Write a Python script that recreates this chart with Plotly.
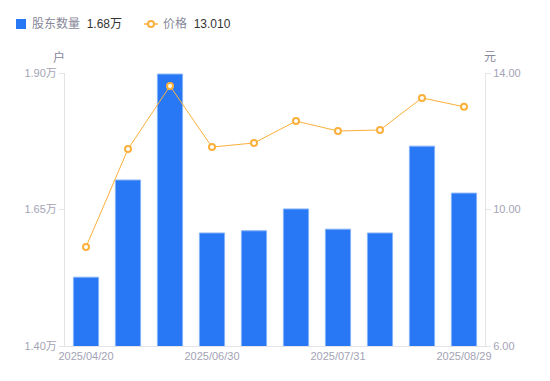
import plotly.graph_objects as go

dates = ["2025/04/20", "2025/05/10", "2025/05/31", "2025/06/30", "2025/07/10",
         "2025/07/20", "2025/07/31", "2025/08/10", "2025/08/20", "2025/08/29"]
holders = [1.526, 1.704, 1.898, 1.607, 1.611, 1.651, 1.614, 1.607, 1.766, 1.680]
price = [8.90, 11.77, 13.62, 11.83, 11.95, 12.59, 12.30, 12.33, 13.27, 13.01]
left_ticks = [1.40, 1.65, 1.90]
left_labels = ["1.40万", "1.65万", "1.90万"]
right_ticks = [6, 10, 14]
right_labels = ["6.00", "10.00", "14.00"]
shown_dates = ["2025/04/20", "2025/06/30", "2025/07/31", "2025/08/29"]
legend_holders = "1.68万"
legend_price = "13.010"

BLUE = "#2878F5"
ORANGE = "#FBB03B"
GREY = "#A3A3B5"
FONT = "Liberation Sans, Arial, Noto Sans CJK SC, sans-serif"

# page has an 8px body margin; compensate so the plot area lands at x 65..485, y 73..346
OFF = 8
W, H = 550 - OFF, 381 - OFF
L, R, T, B = 65, 485, 73, 346
def px(x):
    return (x - L) / (R - L)
def py(y):
    return (B - y) / (B - T)

fig = go.Figure()
fig.add_trace(go.Bar(
    x=dates, y=holders, name="股东数量",
    marker=dict(color=BLUE, line=dict(color="#86B3F8", width=1)),
    yaxis="y"))
fig.add_trace(go.Scatter(
    x=dates, y=price, name="价格",
    mode="lines+markers", line=dict(color=ORANGE, width=1),
    marker=dict(symbol="circle", size=6, color="white", line=dict(color=ORANGE, width=2)),
    yaxis="y2", cliponaxis=False))

shapes = [
    dict(type="rect", xref="paper", yref="paper", x0=px(16), x1=px(26), y0=py(29), y1=py(19),
         fillcolor=BLUE, line=dict(width=0)),
    dict(type="line", xref="paper", yref="paper", x0=px(144), x1=px(158), y0=py(24), y1=py(24),
         line=dict(color=ORANGE, width=1.5)),
    dict(type="circle", xref="paper", yref="paper", x0=px(148), x1=px(154), y0=py(27), y1=py(21),
         fillcolor="white", line=dict(color=ORANGE, width=2)),
]

annotations = [
    dict(text="股东数量  <span style='color:#333333'>" + legend_holders + "</span>",
         xref="paper", yref="paper", x=px(30), y=py(24), xanchor="left", yanchor="middle",
         showarrow=False, font=dict(size=12, color="#888899", family=FONT)),
    dict(text="价格  <span style='color:#333333'>" + legend_price + "</span>",
         xref="paper", yref="paper", x=px(161), y=py(24), xanchor="left", yanchor="middle",
         showarrow=False, font=dict(size=12, color="#888899", family=FONT)),
    dict(text="户", xref="paper", yref="paper", x=px(59), y=py(57), xanchor="center",
         yanchor="middle", showarrow=False, font=dict(size=12, color="#888899", family=FONT)),
    dict(text="元", xref="paper", yref="paper", x=px(490), y=py(57), xanchor="center",
         yanchor="middle", showarrow=False, font=dict(size=12, color="#888899", family=FONT)),
]

fig.update_layout(
    width=W, height=H,
    margin=dict(l=L - OFF, r=W - (R - OFF), t=T - OFF, b=H - (B - OFF), autoexpand=False),
    plot_bgcolor="white", paper_bgcolor="white",
    font=dict(family=FONT, color=GREY, size=11),
    bargap=0.4,
    showlegend=False,
    shapes=shapes,
    annotations=annotations,
    xaxis=dict(type="category", range=[-0.5, len(dates) - 0.5],
               tickmode="array", tickvals=shown_dates, ticktext=shown_dates,
               showline=True, linecolor="#E3E3E8", linewidth=1, showgrid=False,
               ticks="", automargin=False, tickfont=dict(size=11, color=GREY)),
    yaxis=dict(range=[1.40, 1.90], tickvals=left_ticks, ticktext=left_labels,
               showline=True, linecolor="#E3E3E8", showgrid=False, zeroline=False,
               ticks="outside", ticklen=5, tickcolor="#E3E3E8", automargin=False,
               tickfont=dict(size=11, color=GREY)),
    yaxis2=dict(range=[6, 14], tickvals=right_ticks, ticktext=right_labels,
                overlaying="y", side="right",
                showline=True, linecolor="#E3E3E8", showgrid=False, zeroline=False,
                ticks="outside", ticklen=5, tickcolor="#E3E3E8", automargin=False,
                tickfont=dict(size=11, color=GREY)),
)

fig.write_html("out.html")
